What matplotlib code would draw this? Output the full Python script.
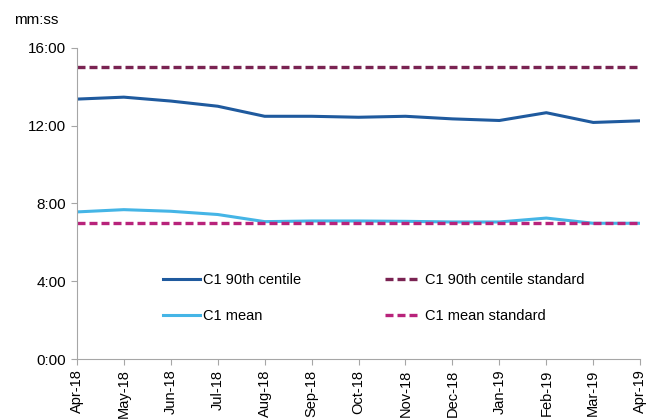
import matplotlib.pyplot as plt
from matplotlib.ticker import FuncFormatter

plt.rcParams['font.family'] = ['Liberation Sans', 'DejaVu Sans']
plt.rcParams['font.size'] = 11

months = ["Apr-18", "May-18", "Jun-18", "Jul-18", "Aug-18", "Sep-18", "Oct-18",
          "Nov-18", "Dec-18", "Jan-19", "Feb-19", "Mar-19", "Apr-19"]
centile90 = ["13:22", "13:28", "13:16", "13:00", "12:29", "12:29", "12:26",
             "12:29", "12:21", "12:16", "12:40", "12:10", "12:15"]
mean = ["7:34", "7:41", "7:36", "7:26", "7:04", "7:06", "7:06",
        "7:05", "7:03", "7:03", "7:15", "6:59", "6:59"]
centile90_std = "15:00"
mean_std = "7:00"


def to_min(s):
    m, sec = s.split(":")
    return int(m) + int(sec) / 60


x = list(range(len(months)))
c90 = [to_min(v) for v in centile90]
cm = [to_min(v) for v in mean]

fig = plt.figure(figsize=(6.46, 4.2), dpi=100)
ax = fig.add_axes([0.119, 0.145, 0.872, 0.741])

l1, = ax.plot(x, c90, color='#1F5A9E', lw=2.2, label='C1 90th centile')
l2, = ax.plot(x, cm, color='#45B5E6', lw=2.2, label='C1 mean')
l3, = ax.plot(x, [to_min(centile90_std)] * len(x), color='#7A2352', lw=2.4,
              ls=(0, (2.4, 1.2)), label='C1 90th centile standard')
l4, = ax.plot(x, [to_min(mean_std)] * len(x), color='#B8237B', lw=2.4,
              ls=(0, (2.4, 1.2)), label='C1 mean standard')

ax.set_xlim(0, 12)
ax.set_ylim(0, 16)
ax.set_yticks([0, 4, 8, 12, 16])
ax.yaxis.set_major_formatter(FuncFormatter(lambda v, p: f"{int(v)}:00"))
ax.set_xticks(x)
ax.set_xticklabels(months, rotation=90, fontsize=10.5)

for s in ['top', 'right']:
    ax.spines[s].set_visible(False)
for s in ['left', 'bottom']:
    ax.spines[s].set_color('#A6A6A6')
ax.tick_params(colors='#A6A6A6', labelcolor='black', length=4)

fig.text(0.022, 0.952, "mm:ss", fontsize=11, ha='left', va='center')

leg_kw = dict(frameon=False, loc='center left', borderpad=0, borderaxespad=0,
              labelspacing=1.55, handlelength=2.5, handletextpad=0.25, fontsize=10.5)
leg1 = ax.legend(handles=[l1, l2], bbox_to_anchor=(0.153, 0.196), **leg_kw)
ax.add_artist(leg1)
ax.legend(handles=[l3, l4], bbox_to_anchor=(0.547, 0.196), **leg_kw)

fig.savefig("out.png", dpi=100)
